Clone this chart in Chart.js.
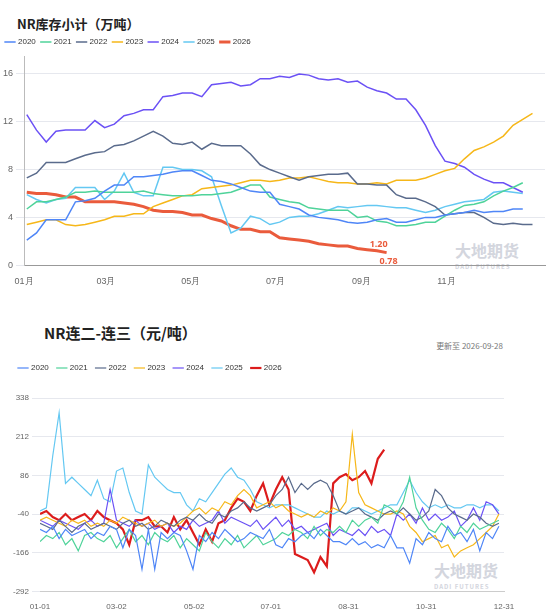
<!DOCTYPE html>
<html><head><meta charset="utf-8">
<script src="https://cdn.jsdelivr.net/npm/chart.js@4"></script>
<style>
body{margin:0;width:550px;height:612px;background:#fff;font-family:"Noto Sans CJK SC","Noto Sans",sans-serif;position:relative;overflow:hidden}
.t{position:absolute;color:#222;font-weight:bold}
.wm{position:absolute;color:#c9ccd6;font-weight:bold;opacity:.8}
#c1{position:absolute;left:0;top:32px}
#c2{position:absolute;left:0;top:355px}
</style></head><body>
<div class="t" style="left:17px;top:14px;font-size:13px">NR库存小计（万吨）</div>
<div class="t" style="left:44px;top:322px;font-size:15px">NR连二-连三（元/吨）</div>
<div style="position:absolute;right:47px;top:340px;font-size:8px;color:#777">更新至 2026-09-28</div>
<div class="wm" style="left:455px;top:238px;font-size:16px">大地期货<div style="font-size:6px;letter-spacing:1px">DADI FUTURES</div></div>
<div class="wm" style="left:434px;top:558px;font-size:16px">大地期货<div style="font-size:6px;letter-spacing:1px">DADI FUTURES</div></div>
<canvas id="c1" width="550" height="258"></canvas>
<canvas id="c2" width="550" height="260"></canvas>
<script>
const years=["2020","2021","2022","2023","2024","2025","2026"];
const colorsTop=["#4f86f7","#4fd39a","#5a6b8c","#f6b719","#6b51f5","#64c8f2","#ea5b3c"];
const colorsBot=["#4f86f7","#4fd39a","#5a6b8c","#f6b719","#6b51f5","#64c8f2","#dc1c1c"];
// Top chart: weekly inventory (万吨)
const inv2020=[2.1,2.7,3.8,3.8,3.8,5.3,5.4,5.6,6.2,6.7,6.7,7.4,7.4,7.5,7.6,7.8,7.9,7.9,7.5,7.1,7.0,6.8,6.5,6.2,6.1,6.1,5.1,4.9,4.7,4.2,4.0,3.9,3.8,3.6,3.5,3.6,3.8,3.9,3.6,3.6,3.8,4.0,4.0,4.2,4.3,4.4,4.6,4.4,4.5,4.5,4.7,4.7];
const inv2021=[4.7,5.3,5.3,5.5,5.7,6.1,6.1,6.2,6.1,6.1,6.1,6.1,6.2,6.0,5.9,5.8,5.8,5.8,5.9,5.9,6.0,6.1,6.4,6.7,6.7,5.7,5.5,5.3,5.2,4.8,4.7,4.6,4.6,4.6,4.0,4.1,3.7,3.6,3.3,3.3,3.4,3.6,3.6,4.1,4.6,5.0,5.1,5.3,5.8,6.2,6.5,6.9];
const inv2022=[7.3,7.7,8.6,8.6,8.6,8.9,9.2,9.4,9.5,10.0,10.1,10.4,10.8,11.2,10.8,10.2,10.1,10.3,9.7,10.2,10.0,10.0,10.0,9.3,8.4,8.0,7.7,7.4,7.1,7.4,7.5,7.6,7.6,7.7,6.8,6.8,6.7,6.7,5.9,5.6,5.6,5.3,4.9,4.2,4.3,4.4,4.4,4.0,3.5,3.4,3.5,3.4,3.4];
const inv2023=[3.4,3.6,3.8,3.8,3.4,3.3,3.4,3.6,3.8,4.1,4.1,4.3,4.3,4.9,5.2,5.5,5.8,5.9,6.4,6.5,6.6,6.7,6.9,7.1,7.1,7.0,7.1,7.3,7.3,7.4,7.2,7.0,6.9,6.9,6.8,6.8,6.9,6.8,7.1,7.1,7.1,7.3,7.6,7.9,8.1,8.9,9.6,9.9,10.3,10.8,11.7,12.2,12.7];
const inv2024=[12.6,11.3,10.3,11.2,11.3,11.3,11.3,12.1,11.5,11.8,12.5,12.7,13.0,13.0,14.1,14.2,14.4,14.4,14.1,15.1,15.2,15.3,15.0,15.1,15.6,15.6,15.8,15.7,16.0,15.9,15.6,15.5,15.6,15.3,15.4,14.9,14.6,14.4,13.9,13.9,13.0,11.7,10.0,8.7,8.5,8.2,7.6,7.2,6.9,6.9,6.5,6.1];
const inv2025=[5.9,5.5,5.2,5.5,5.6,6.5,6.5,6.5,5.5,6.2,7.7,6.1,5.8,5.8,8.2,8.2,8.0,8.0,7.9,7.4,5.0,2.7,3.1,4.1,3.9,3.4,3.6,4.0,4.1,4.1,4.3,4.6,4.9,4.8,4.9,5.0,5.0,4.9,4.8,4.8,4.6,4.4,4.6,4.9,5.1,5.3,5.4,5.5,6.1,6.2,6.1,6.0];
const inv2026=[6.1,6.0,6.0,5.9,5.7,5.7,5.3,5.3,5.3,5.3,5.2,5.1,4.9,4.6,4.5,4.5,4.4,4.2,4.2,3.9,3.7,3.3,3.0,3.0,2.8,2.8,2.3,2.2,2.1,2.0,1.8,1.7,1.6,1.6,1.4,1.3,1.2,1.05];
const inv2026Labels=["1.20","0.78"];
const topTicks=[0,4,8,12,16];
const topMonthDays=[0,59,120,181,243,304];
const topMonthLabels=["01月","03月","05月","07月","09月","11月"];
// Bottom chart: NR 2nd-3rd month spread (元/吨), sampled every 5 days
const sp2020=[-90,-100,-80,-120,-90,-110,-100,-90,-120,-100,-110,-80,-90,-150,-90,-110,-220,-90,-220,-100,-120,-100,-110,-160,-220,-110,-130,-100,-120,-90,-110,-130,-120,-100,-110,-120,-90,-140,-150,-120,-130,-110,-100,-120,-90,-110,-130,-130,-140,-120,-140,-130,-150,-140,-150,-110,-150,-150,-200,-120,-140,-100,-120,-130,-80,-110,-100,-130,-90,-160,-100,-120,-80];
const sp2021=[-130,-110,-120,-100,-140,-120,-160,-110,-100,-120,-130,-110,-150,-120,-90,-130,-110,-140,-100,-120,-130,-110,-150,-120,-140,-160,-100,-130,-150,-120,-140,-110,-150,-130,-110,-140,-130,-120,-100,-110,-90,-100,-120,-80,-110,-90,-100,-80,-100,-60,-80,-60,-50,-70,-10,-20,-40,0,80,-20,-60,-90,-100,-70,-90,-120,-80,-100,-70,-90,-80,-70,-60];
const sp2022=[-70,-80,-90,-60,-80,-100,-80,-70,-90,-80,-70,-80,-90,-70,-60,-80,-70,-90,-80,-60,-70,-80,-60,-50,-60,-40,-60,-70,-40,-50,-30,-20,0,-20,-30,-20,-10,20,40,80,30,60,40,60,70,60,20,-30,-40,-30,-20,-40,-50,-60,-40,-30,-40,-20,-40,-60,-50,-30,40,20,-20,-40,-50,-60,-40,-50,-70,-80,-70];
const sp2023=[-60,-50,-60,-70,-80,-60,-70,-60,-80,-70,-80,-60,-70,-50,-60,-70,-80,-70,-60,-80,-70,-80,-70,-50,-30,-20,-40,-20,-30,0,-10,20,40,20,-20,-10,0,-20,-10,-30,-40,-50,-40,-50,-30,-40,-20,-30,0,220,30,-10,-20,-30,-40,-40,-30,-40,-80,-100,-130,-120,-110,-150,-140,-180,-160,-150,-140,-120,-100,-80,-40];
const sp2024=[-60,-70,-80,-60,-70,-80,-90,-70,-60,-80,-70,40,-60,-70,-80,-60,-80,-70,-90,-80,-70,-100,-80,-90,-60,-80,-70,-60,-30,-70,-50,-60,-70,-80,-60,-90,-70,-50,-80,-60,-90,-80,-100,-90,-80,-70,-110,-90,-100,-110,-90,-110,-80,-100,-90,-110,-40,-60,-40,-70,-20,-60,-40,-60,-50,-30,-80,-60,-20,-60,0,-10,-40];
const sp2025=[-30,-20,150,290,60,80,60,40,20,70,10,0,100,110,30,-30,-40,120,80,60,40,30,30,-10,-30,10,0,30,60,90,110,80,70,40,0,-10,-20,-10,-10,-10,-20,-30,-40,-50,-50,-30,-40,-30,-40,-20,-20,-30,-40,-30,-20,-10,-10,30,70,30,0,-20,-10,-20,-10,-20,-20,-10,-10,-20,-10,-10,-30];
const sp2026=[-40,-30,-50,-60,-40,-60,-50,-40,-60,-30,-50,-60,-70,-90,-140,-60,-60,-50,-80,-80,-100,-50,-90,-60,-100,-140,-90,-130,-70,-60,-20,10,0,-30,20,60,-10,40,80,40,-170,-180,-190,-230,-180,-210,60,80,90,70,80,100,60,140,170];
const botTicks=[-292,-166,-40,86,212,338];
const botDays=[0,60,121,181,242,303,364];
const botLabels=["01-01","03-02","05-02","07-01","08-31","10-31","12-31"];

const invAll=[inv2020,inv2021,inv2022,inv2023,inv2024,inv2025,inv2026];
const spAll=[sp2020,sp2021,sp2022,sp2023,sp2024,sp2025,sp2026];
const legendOpts={position:'top',align:'start',labels:{usePointStyle:true,pointStyle:'line',boxWidth:14,font:{size:8},color:'#333',padding:6}};

const endLabel={id:'endLabel',afterDatasetsDraw(ch){const m=ch.getDatasetMeta(6);const p=m.data[m.data.length-1];if(!p)return;const c=ch.ctx;c.save();c.fillStyle=colorsTop[6];c.font='bold 9px "Noto Sans"';c.textAlign='right';c.fillText(inv2026Labels[0],p.x+1,p.y-8);c.textAlign='left';c.fillText(inv2026Labels[1],p.x-7,p.y+9);c.restore();}};
const legendGap={id:'legendGap',beforeInit(ch){const f=ch.legend.fit;ch.legend.fit=function(){f.call(this);this.height+=16;};}};

new Chart(document.getElementById('c1'),{type:'line',
data:{datasets:invAll.map((a,k)=>({label:years[k],data:a.map((v,i)=>({x:2+i*7,y:v})),borderColor:colorsTop[k],backgroundColor:colorsTop[k],borderWidth:k==6?3:1.5,pointRadius:0,tension:0}))},
options:{responsive:false,animation:false,layout:{padding:{left:0,right:5,top:0,bottom:0}},
plugins:{legend:legendOpts,tooltip:{enabled:false}},
scales:{x:{type:'linear',min:0,max:375,afterBuildTicks:s=>{s.ticks=topMonthDays.map(v=>({value:v}));},
ticks:{callback:(v)=>topMonthLabels[topMonthDays.indexOf(v)],font:{size:9},color:'#666',maxRotation:0,autoSkip:false},
grid:{display:false,drawTicks:true},border:{color:'#999'}},
y:{min:0,max:17.5,afterBuildTicks:s=>{s.ticks=topTicks.map(v=>({value:v}));},ticks:{font:{size:9},color:'#666',padding:3},grid:{color:'#e6e8ee'},border:{color:'#bbb'}}}},
plugins:[endLabel]});

new Chart(document.getElementById('c2'),{type:'line',
data:{datasets:spAll.map((a,k)=>({label:years[k],data:a.map((v,i)=>({x:i*5,y:v})),borderColor:colorsBot[k],backgroundColor:colorsBot[k],borderWidth:k==6?2.2:1.2,pointRadius:0,tension:0}))},
options:{responsive:false,animation:false,layout:{padding:{left:10,right:46,top:0,bottom:0}},
plugins:{legend:{...legendOpts,labels:{...legendOpts.labels,font:{size:8},padding:9}},tooltip:{enabled:false}},
scales:{x:{type:'linear',min:0,max:364,afterBuildTicks:s=>{s.ticks=botDays.map(v=>({value:v}));},
ticks:{callback:(v)=>botLabels[botDays.indexOf(v)],font:{size:8},color:'#666',maxRotation:0,autoSkip:false},
grid:{display:false},border:{color:'#ccc'}},
y:{min:-292,max:338,afterBuildTicks:s=>{s.ticks=botTicks.map(v=>({value:v}));},ticks:{font:{size:8},color:'#666'},grid:{color:'#e6e8ee'},border:{display:false}}}},
plugins:[legendGap]});
</script></body></html>
